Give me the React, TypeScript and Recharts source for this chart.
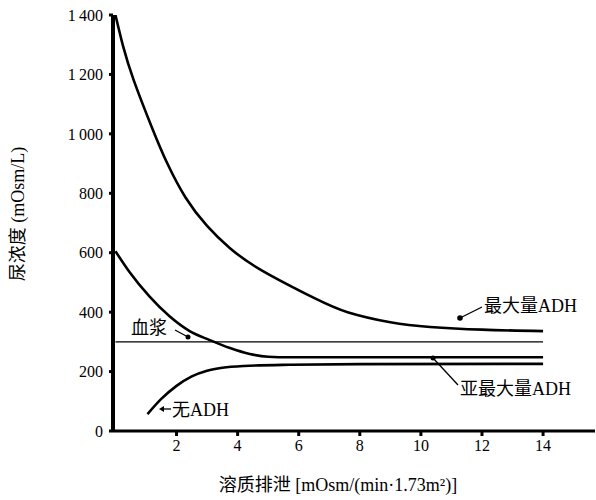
import React from "react";
import { LineChart, Line, XAxis, YAxis, Customized } from "recharts";

const maxADH = [
  { x: 0, y: 1400 }, { x: 0.25, y: 1295 }, { x: 0.6, y: 1180 }, { x: 1.2, y: 1020 },
  { x: 1.7, y: 900 }, { x: 2.3, y: 785 }, { x: 3.0, y: 690 }, { x: 3.75, y: 615 },
  { x: 4.8, y: 540 }, { x: 6.5, y: 448 }, { x: 7.6, y: 400 }, { x: 9.0, y: 366 },
  { x: 10.3, y: 350 }, { x: 12, y: 341 }, { x: 14, y: 336 },
];
const subMaxADH = [
  { x: 0, y: 605 }, { x: 0.46, y: 535 }, { x: 1.12, y: 452 }, { x: 1.78, y: 385 },
  { x: 2.43, y: 336 }, { x: 3.09, y: 306 }, { x: 3.75, y: 279 }, { x: 4.4, y: 259 },
  { x: 5.0, y: 250 }, { x: 5.7, y: 248 }, { x: 8, y: 248 }, { x: 14, y: 248 },
];
const noADH = [
  { x: 1.05, y: 57 }, { x: 1.5, y: 108 }, { x: 2.0, y: 152 }, { x: 2.5, y: 184 },
  { x: 3.0, y: 203 }, { x: 3.5, y: 213 }, { x: 4.2, y: 219 }, { x: 5.7, y: 223 },
  { x: 8, y: 225 }, { x: 14, y: 226 },
];
const plasma = [{ x: 0, y: 300 }, { x: 14, y: 300 }];

const xTicks = [2, 4, 6, 8, 10, 12, 14];
const yTicks = [0, 200, 400, 600, 800, 1000, 1200, 1400];
const yTickLabels = ["0", "200", "400", "600", "800", "1\u2009000", "1\u2009200", "1\u2009400"];

const FONT = "Liberation Serif, Times New Roman, DejaVu Serif, Noto Sans CJK SC, serif";

const Annotations = () => (
  <g style={{ fontFamily: FONT, fontSize: 18 }} fill="#000">
    <text x={18} y={214} transform="rotate(-90 18 214)" textAnchor="middle" dominantBaseline="central">
      尿浓度 (mOsm/L)
    </text>
    <text x={338} y={491} textAnchor="middle">
      溶质排泄  [mOsm/(min·1.73m²)]
    </text>
    {/* 最大量ADH */}
    <circle cx={460} cy={318} r={2.8} fill="#000" />
    <line x1={460} y1={318} x2={482} y2={307} stroke="#000" strokeWidth={1.3} />
    <text x={484} y={312}>最大量ADH</text>
    {/* 亚最大量ADH */}
    <circle cx={433} cy={358} r={2.5} fill="#000" />
    <line x1={433} y1={358} x2={458} y2={385} stroke="#000" strokeWidth={1.3} />
    <text x={460} y={395}>亚最大量ADH</text>
    {/* 血浆 */}
    <circle cx={188} cy={337} r={2.5} fill="#000" />
    <line x1={175} y1={330} x2={188} y2={337} stroke="#000" strokeWidth={1.3} />
    <text x={131} y={334}>血浆</text>
    {/* 无ADH */}
    <line x1={161} y1={409} x2={171} y2={409} stroke="#000" strokeWidth={1.3} />
    <path d="M159 409 L164 406 L164 412 Z" fill="#000" />
    <text x={172} y={416}>无ADH</text>
  </g>
);

const tickStyle = { fontFamily: FONT, fontSize: 16, fill: "#000" };

export default function App() {
  return (
    <div style={{ position: "absolute", left: 0, top: 0, background: "#fff", fontFamily: FONT }}>
      <LineChart width={596} height={500} margin={{ top: 15, right: 1, bottom: 0, left: 0 }} style={{ fontFamily: FONT }}>
        <XAxis
          type="number"
          dataKey="x"
          domain={[-0.08, 15.7]}
          ticks={xTicks}
          allowDataOverflow
          height={69}
          axisLine={{ stroke: "#000", strokeWidth: 3 }}
          tickLine={{ stroke: "#000", strokeWidth: 3 }}
          tickSize={5}
          tickMargin={4}
          tick={{ ...tickStyle, style: { fontFamily: FONT } }}
        />
        <YAxis
          type="number"
          dataKey="y"
          domain={[0, 1400]}
          ticks={yTicks}
          allowDataOverflow
          width={113}
          axisLine={{ stroke: "#000", strokeWidth: 4 }}
          tickLine={{ stroke: "#000", strokeWidth: 3 }}
          tickSize={4}
          tickMargin={6}
          tickFormatter={(v: number) => yTickLabels[yTicks.indexOf(v)]}
          tick={{ ...tickStyle, style: { fontFamily: FONT } }}
        />
        <Line data={plasma} dataKey="y" type="linear" stroke="#000" strokeWidth={1.4} dot={false} isAnimationActive={false} />
        <Line data={maxADH} dataKey="y" type="natural" stroke="#000" strokeWidth={2.6} dot={false} isAnimationActive={false} />
        <Line data={subMaxADH} dataKey="y" type="monotone" stroke="#000" strokeWidth={2.6} dot={false} isAnimationActive={false} />
        <Line data={noADH} dataKey="y" type="monotone" stroke="#000" strokeWidth={2.6} dot={false} isAnimationActive={false} />
        <Customized component={Annotations} />
      </LineChart>
    </div>
  );
}
